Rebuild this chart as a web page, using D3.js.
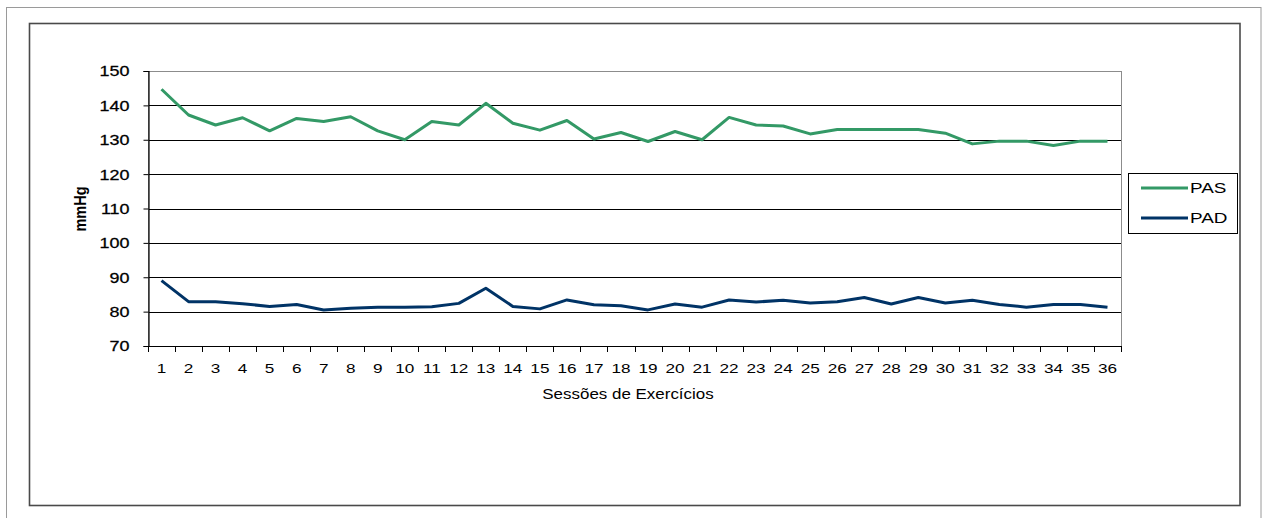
<!DOCTYPE html>
<html>
<head>
<meta charset="utf-8">
<script src="https://cdn.jsdelivr.net/npm/d3@7"></script>
<style>
  html, body { margin: 0; padding: 0; background: #fff; }
  svg { display: block; }
  text { font-family: "Liberation Sans", Arial, sans-serif; fill: #000; }
</style>
</head>
<body>
<svg id="chart" width="1264" height="518"></svg>
<script>
// Sessões de exercício (1..36)
const sessions = d3.range(1, 37).map(String);

// Pressão arterial sistólica (PAS), mmHg
const pas = [144.7, 137.2, 134.3, 136.4, 132.6, 136.2, 135.3, 136.7, 132.6, 130.0,
             135.3, 134.3, 140.6, 134.8, 132.8, 135.6, 130.2, 132.1, 129.5, 132.4,
             130.0, 136.5, 134.3, 134.0, 131.7, 133.0, 133.0, 133.0, 133.0, 131.9,
             128.8, 129.6, 129.6, 128.3, 129.6, 129.6];

// Pressão arterial diastólica (PAD), mmHg
const pad = [89.0, 82.9, 82.9, 82.3, 81.5, 82.1, 80.5, 81.0, 81.3, 81.3,
             81.4, 82.4, 86.8, 81.5, 80.8, 83.4, 82.0, 81.7, 80.5, 82.2,
             81.3, 83.4, 82.8, 83.3, 82.5, 82.9, 84.1, 82.2, 84.1, 82.5,
             83.3, 82.1, 81.3, 82.1, 82.1, 81.3];

const yTicks = [70, 80, 90, 100, 110, 120, 130, 140, 150];

const series = [
  { name: "PAS", values: pas, color: "#339966" },
  { name: "PAD", values: pad, color: "#003366" }
];

const SX = 1.27; // horizontal stretch of the lettering
const svg = d3.select("#chart");

// frames
svg.append("rect").attr("x", 6.5).attr("y", 7.5).attr("width", 1254.5).attr("height", 520)
  .attr("fill", "none").attr("stroke", "#9a9a9a").attr("stroke-width", 1);
svg.append("rect").attr("x", 29.5).attr("y", 23.5).attr("width", 1210.5).attr("height", 482)
  .attr("fill", "none").attr("stroke", "#4a4a4a").attr("stroke-width", 1.6);

const plot = { left: 148, right: 1121, top: 71, bottom: 346 };

const x = d3.scaleBand().domain(sessions).range([plot.left, plot.right]);
const y = d3.scaleLinear().domain([70, 150]).range([plot.bottom, plot.top]);

// gridlines
svg.append("g").selectAll("line").data(yTicks.filter(v => v > 70 && v < 150)).join("line")
  .attr("x1", plot.left).attr("x2", plot.right)
  .attr("y1", d => Math.round(y(d)) + 0.5).attr("y2", d => Math.round(y(d)) + 0.5)
  .attr("stroke", "#000").attr("stroke-width", 1);

// plot-area border
svg.append("rect").attr("x", plot.left + 0.5).attr("y", plot.top + 0.5)
  .attr("width", plot.right - plot.left).attr("height", plot.bottom - plot.top)
  .attr("fill", "none").attr("stroke", "#8c8c8c").attr("stroke-width", 1);

// y axis
const yAxis = svg.append("g").attr("transform", `translate(${plot.left + 0.5},0)`)
  .call(d3.axisLeft(y).tickValues(yTicks).tickSize(5).tickPadding(0).tickFormat(d3.format("d")));
yAxis.select(".domain").attr("stroke", "#000").attr("stroke-width", 1.2);
yAxis.selectAll(".tick line").attr("stroke", "#000");
yAxis.selectAll(".tick text")
  .attr("x", 0).attr("dy", "0.36em")
  .attr("transform", `translate(-19,0) scale(1.3,1)`)
  .style("font-size", "13.8px").style("font-family", "Liberation Sans, Arial, sans-serif")
  .attr("fill", "#000").attr("stroke", "#000").attr("stroke-width", 0.25);

// x axis line and boundary ticks
const xg = svg.append("g");
xg.append("line").attr("x1", plot.left).attr("x2", plot.right + 1)
  .attr("y1", plot.bottom + 0.5).attr("y2", plot.bottom + 0.5)
  .attr("stroke", "#000").attr("stroke-width", 1.2);
const bounds = sessions.map(s => x(s)).concat([x.range()[1]]);
xg.selectAll("line.tk").data(bounds).join("line").attr("class", "tk")
  .attr("x1", d => Math.round(d) + 0.5).attr("x2", d => Math.round(d) + 0.5)
  .attr("y1", plot.bottom).attr("y2", plot.bottom + 6)
  .attr("stroke", "#000");
xg.selectAll("text").data(sessions).join("text")
  .attr("transform", d => `translate(${x(d) + x.bandwidth() / 2},${plot.bottom + 22}) scale(${SX},1)`)
  .attr("text-anchor", "middle").attr("dy", "0.36em")
  .style("font-size", "13.5px")
  .text(d => d);

// axis titles
svg.append("text")
  .attr("transform", `translate(628,394) scale(1.13,1)`)
  .attr("text-anchor", "middle").attr("dy", "0.36em")
  .style("font-size", "15px")
  .text("Sessões de Exercícios");
svg.append("text")
  .attr("transform", `translate(80,209) rotate(-90) scale(1,1.15)`)
  .attr("text-anchor", "middle").attr("dy", "0.36em")
  .style("font-size", "14.5px").style("font-weight", "bold")
  .text("mmHg");

// series lines
const line = d3.line()
  .x((d, i) => x(sessions[i]) + x.bandwidth() / 2)
  .y(d => y(d));
svg.append("g").selectAll("path").data(series).join("path")
  .attr("d", d => line(d.values))
  .attr("fill", "none").attr("stroke", d => d.color)
  .attr("stroke-width", 3).attr("stroke-linejoin", "round");

// legend
const lg = svg.append("g");
lg.append("rect").attr("x", 1128.5).attr("y", 173.5).attr("width", 109).attr("height", 60)
  .attr("fill", "#fff").attr("stroke", "#000").attr("stroke-width", 1);
const items = lg.selectAll("g.item").data(series).join("g").attr("class", "item")
  .attr("transform", (d, i) => `translate(0,${188 + i * 30})`);
items.append("line").attr("x1", 1141).attr("x2", 1188).attr("y1", 0).attr("y2", 0)
  .attr("stroke", d => d.color).attr("stroke-width", 3);
items.append("text")
  .attr("transform", `translate(1190,0) scale(1.35,1)`)
  .attr("dy", "0.36em").style("font-size", "14px")
  .text(d => d.name);
</script>
</body>
</html>
